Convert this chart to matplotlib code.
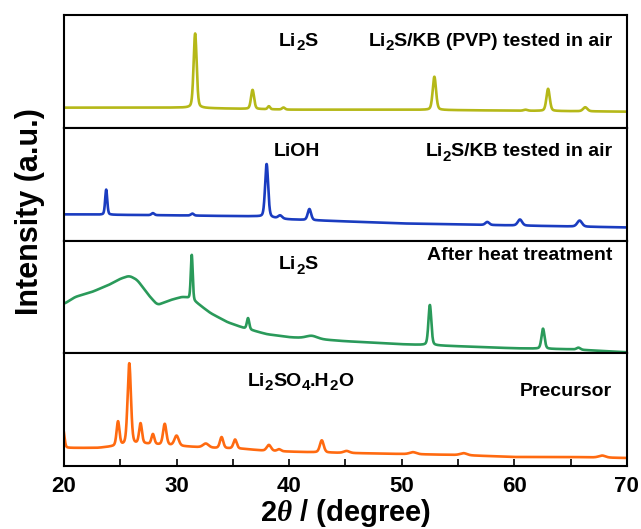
import numpy as np
import matplotlib
matplotlib.use('Agg')
import matplotlib.pyplot as plt
import matplotlib.transforms as mtransforms

plt.rcParams['font.family'] = ['Liberation Sans', 'DejaVu Sans']
plt.rcParams['font.weight'] = 'bold'
plt.rcParams['mathtext.fontset'] = 'custom'
plt.rcParams['mathtext.rm'] = 'Liberation Sans:bold'
plt.rcParams['mathtext.it'] = 'Liberation Serif:italic'
plt.rcParams['mathtext.bf'] = 'Liberation Sans:bold'

# 2theta range
x_min, x_max = 20, 70

# peaks: (position deg, height, fwhm deg)
pvp_peaks = [(31.65, 74, 0.32), (36.75, 19, 0.32), (38.2, 3, 0.25), (39.5, 2, 0.3),
             (52.9, 33, 0.35), (61.0, 1, 0.4), (63.0, 22, 0.35), (66.3, 4, 0.45)]
pvp_base_x = [20, 30, 40, 50, 60, 70]
pvp_base_y = [20, 20, 18, 18, 17, 16]

kb_peaks = [(23.75, 25, 0.22), (27.9, 2, 0.3), (31.4, 2, 0.3), (38.0, 53, 0.32),
            (39.2, 3, 0.4), (41.8, 11, 0.35), (57.6, 3, 0.4), (60.5, 6, 0.45), (65.8, 6, 0.5)]
kb_base_x = [20, 30, 37, 40, 50, 60, 70]
kb_base_y = [26, 25, 24, 21, 17, 15, 13]

heat_peaks = [(31.35, 45, 0.2), (36.35, 11, 0.25), (42.0, 3, 1.2), (52.5, 40, 0.3),
              (62.55, 20, 0.32), (65.7, 2, 0.4)]
heat_base_x = [20, 21, 22.5, 24, 25, 25.8, 26.5, 27.5, 28.3, 29.5, 30.5, 31.0, 31.8,
               33, 34.5, 36, 38, 40, 45, 50, 55, 60, 65, 70]
heat_base_y = [49, 56, 61, 68, 74, 77, 73, 58, 48, 53, 56, 55, 50,
               40, 31, 25, 19, 16, 12, 9, 7, 5, 4, 1]

pre_peaks = [(19.95, 17, 0.25), (24.8, 24, 0.3), (25.8, 81, 0.35), (26.8, 20, 0.3),
             (27.9, 10, 0.3), (28.95, 21, 0.35), (30.0, 10, 0.45), (32.6, 4, 0.6),
             (34.0, 11, 0.35), (35.2, 9, 0.35), (38.2, 6, 0.45), (39.1, 2, 0.4),
             (42.9, 12, 0.4), (45.1, 2, 0.6), (51.0, 2, 0.7), (55.5, 2, 0.7), (67.8, 2, 0.7)]
pre_base_x = [20, 23, 25, 27, 30, 33, 36, 38, 41, 45, 50, 55, 60, 65, 70]
pre_base_y = [18, 18, 20, 22, 20, 18, 17, 15, 14, 13, 12, 11, 9, 9, 8]

colors = ['#b5b818', '#1a3cc0', '#2a9a5a', '#ff6a10']

# labels as (text, subscript?) pieces
lbl_li2s = [('Li', 0), ('2', 1), ('S', 0)]
lbl_pvp = [('Li', 0), ('2', 1), ('S/KB (PVP) tested in air', 0)]
lbl_lioh = [('LiOH', 0)]
lbl_kb = [('Li', 0), ('2', 1), ('S/KB tested in air', 0)]
lbl_heat = [('After heat treatment', 0)]
lbl_so4 = [('Li', 0), ('2', 1), ('SO', 0), ('4', 1), ('.H', 0), ('2', 1), ('O', 0)]
lbl_pre = [('Precursor', 0)]


def pattern(x, peaks, bx, by):
    # smoothed baseline + pseudo-voigt peaks
    y = np.interp(x, bx, by)
    k = np.ones(41) / 41
    y = np.convolve(np.pad(y, 20, mode='edge'), k, mode='valid')
    for pos, h, w in peaks:
        g = np.exp(-4 * np.log(2) * ((x - pos) / w) ** 2)
        l = 1 / (1 + 4 * ((x - pos) / w) ** 2)
        y = y + h * (0.7 * g + 0.3 * l)
    return y


def sub_label(ax, x, y, parts, ha='center', fs=14):
    # draw text with real lowered subscripts
    r = fig.canvas.get_renderer()
    sizes = [fs * 0.78 if s else fs for _, s in parts]
    widths = []
    for (t, s), size in zip(parts, sizes):
        tt = ax.text(0, 0, t, fontsize=size)
        widths.append(tt.get_window_extent(r).width)
        tt.remove()
    total = sum(widths)
    off = -total / 2 if ha == 'center' else -total
    for (t, s), size, w in zip(parts, sizes, widths):
        tr = mtransforms.offset_copy(ax.transData, fig=fig, x=off, y=-5 if s else 0,
                                     units='dots')
        ax.text(x, y, t, fontsize=size, transform=tr, ha='left', va='center')
        off += w


x = np.linspace(x_min, x_max, 4000)
curves = [pattern(x, pvp_peaks, pvp_base_x, pvp_base_y),
          pattern(x, kb_peaks, kb_base_x, kb_base_y),
          pattern(x, heat_peaks, heat_base_x, heat_base_y),
          pattern(x, pre_peaks, pre_base_x, pre_base_y)]

fig = plt.figure(figsize=(6.41, 5.29), dpi=100)
gs = fig.add_gridspec(4, 1, left=0.0998, right=0.978, top=0.9716, bottom=0.119, hspace=0)
axes = [fig.add_subplot(gs[i]) for i in range(4)]

for ax, y, c in zip(axes, curves, colors):
    ax.plot(x, y, color=c, lw=1.9)
    ax.set_xlim(x_min, x_max)
    ax.set_ylim(0, 112)
    for s in ax.spines.values():
        s.set_linewidth(1.5)
    ax.set_yticks([0])
    ax.set_yticklabels([])
    ax.tick_params(axis='y', direction='in', length=4, width=1.2)

for ax in axes[:3]:
    ax.set_xticks([])

ax = axes[3]
ax.set_xticks([20, 30, 40, 50, 60, 70])
ax.set_xticks([25, 35, 45, 55, 65], minor=True)
ax.tick_params(axis='x', which='both', direction='in', length=5, width=1.2,
               labelsize=16, pad=7)
ax.set_xlabel(r'2$\theta$ / (degree)', fontsize=21, fontweight='bold', labelpad=0)

fig.text(0.047, 0.6, 'Intensity (a.u.)', rotation=90, fontsize=22, fontweight='bold',
         ha='center', va='center')

sub_label(axes[0], 40.8, 86, lbl_li2s)
sub_label(axes[0], 68.7, 86, lbl_pvp, ha='right')
sub_label(axes[1], 40.7, 88, lbl_lioh)
sub_label(axes[1], 68.7, 88, lbl_kb, ha='right')
sub_label(axes[2], 40.8, 88, lbl_li2s)
sub_label(axes[2], 68.7, 97, lbl_heat, ha='right')
sub_label(axes[3], 41.0, 84, lbl_so4)
sub_label(axes[3], 68.7, 74, lbl_pre, ha='right')

fig.savefig('out.png', dpi=100)
